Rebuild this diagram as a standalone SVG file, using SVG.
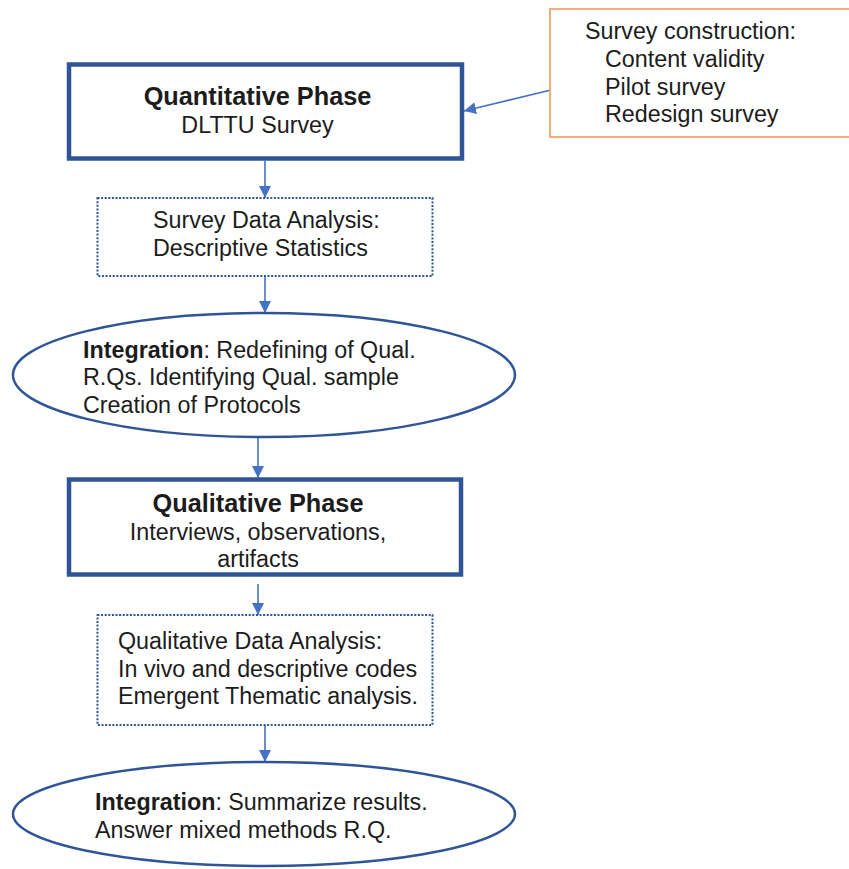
<svg xmlns="http://www.w3.org/2000/svg" width="849" height="869" viewBox="0 0 849 869">
  <style>
    text { font-family: "Liberation Sans", Arial, sans-serif; font-size: 23.3px; fill: #1c1c1c; }
    .title { font-weight: bold; font-size: 25.3px; }
    .b { font-weight: bold; }
    .phase { fill: #ffffff; stroke: #2f5597; stroke-width: 4.5; }
    .analysis { fill: #ffffff; stroke: #2f5597; stroke-width: 2; stroke-dasharray: 2 1.6; }
    .integration { fill: #ffffff; stroke: #2f5597; stroke-width: 2.5; }
    .note { fill: #ffffff; stroke: #f4a46c; stroke-width: 1.8; }
    .arrow { stroke: #4472c4; stroke-width: 1.6; fill: none; marker-end: url(#head); }
  </style>
  <defs>
    <marker id="head" markerWidth="12" markerHeight="12" refX="10" refY="5" orient="auto" markerUnits="userSpaceOnUse" viewBox="0 0 10 10">
      <path d="M0,0 L10,5 L0,10 Z" fill="#4472c4"/>
    </marker>
  </defs>
  <rect width="849" height="869" fill="#ffffff"/>

  <g id="connectors">
    <line class="arrow" x1="551" y1="90" x2="464" y2="111"/>
    <line class="arrow" x1="265" y1="161" x2="265" y2="198"/>
    <line class="arrow" x1="265" y1="276" x2="265" y2="313"/>
    <line class="arrow" x1="258" y1="436" x2="258" y2="478"/>
    <line class="arrow" x1="258" y1="584" x2="258" y2="615"/>
    <line class="arrow" x1="265" y1="725" x2="265" y2="762"/>
  </g>

  <g id="survey-construction">
    <rect class="note" x="550" y="9" width="305" height="128"/>
    <text x="585" y="39">Survey construction:</text>
    <text x="605" y="67">Content validity</text>
    <text x="605" y="95">Pilot survey</text>
    <text x="605" y="122">Redesign survey</text>
  </g>

  <g id="quantitative-phase">
    <rect class="phase" x="69" y="64.5" width="393" height="94"/>
    <text class="title" x="257.5" y="105" text-anchor="middle">Quantitative Phase</text>
    <text x="257.5" y="133" text-anchor="middle">DLTTU Survey</text>
  </g>

  <g id="survey-data-analysis">
    <rect class="analysis" x="97.5" y="198" width="335" height="78"/>
    <text x="153" y="228">Survey Data Analysis:</text>
    <text x="153" y="256">Descriptive Statistics</text>
  </g>

  <g id="integration-1">
    <ellipse class="integration" cx="264" cy="375" rx="251" ry="62"/>
    <text x="83" y="358"><tspan class="b">Integration</tspan>: Redefining of Qual.</text>
    <text x="83" y="385">R.Qs. Identifying Qual. sample</text>
    <text x="83" y="413">Creation of Protocols</text>
  </g>

  <g id="qualitative-phase">
    <rect class="phase" x="69" y="479.5" width="392" height="95"/>
    <text class="title" x="258" y="512" text-anchor="middle">Qualitative Phase</text>
    <text x="258" y="540" text-anchor="middle">Interviews, observations,</text>
    <text x="258" y="567" text-anchor="middle">artifacts</text>
  </g>

  <g id="qualitative-data-analysis">
    <rect class="analysis" x="97.5" y="615" width="335" height="110"/>
    <text x="118" y="649">Qualitative Data Analysis:</text>
    <text x="118" y="677">In vivo and descriptive codes</text>
    <text x="118" y="704">Emergent Thematic analysis.</text>
  </g>

  <g id="integration-2">
    <ellipse class="integration" cx="264" cy="814" rx="251" ry="52"/>
    <text x="95" y="810"><tspan class="b">Integration</tspan>: Summarize results.</text>
    <text x="95" y="838">Answer mixed methods R.Q.</text>
  </g>
</svg>
